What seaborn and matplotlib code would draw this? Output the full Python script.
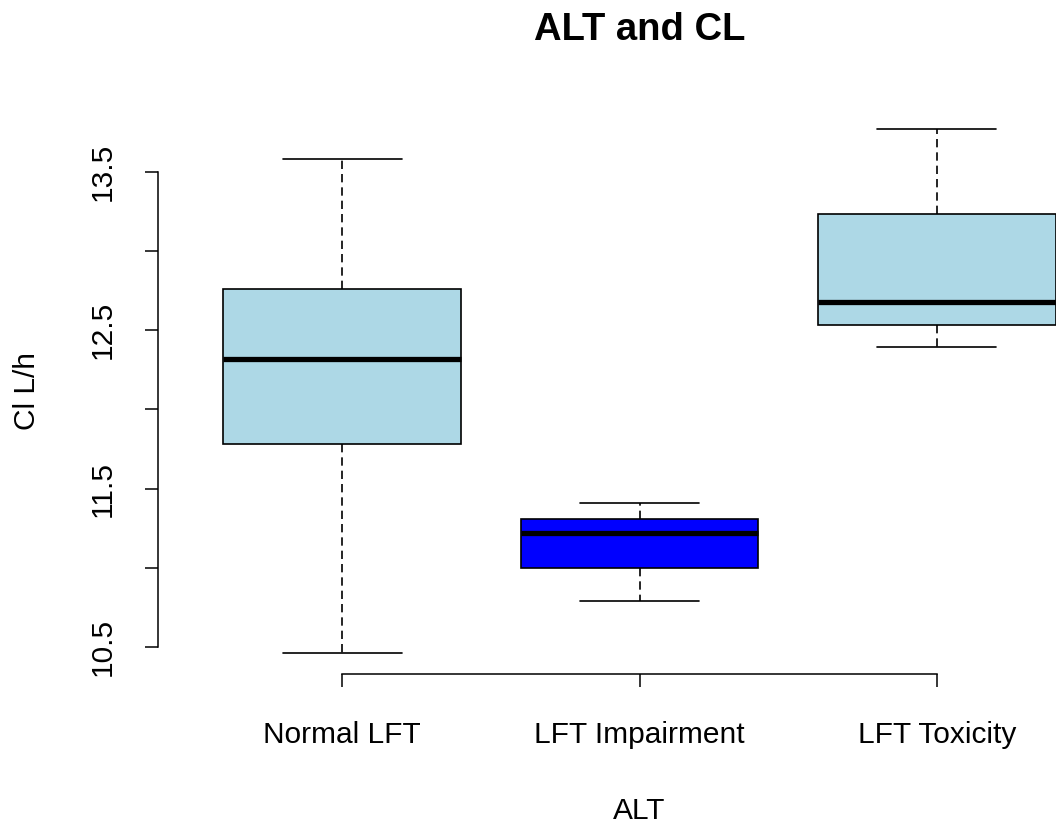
import numpy as np
import pandas as pd
import matplotlib
matplotlib.use("Agg")
import matplotlib.pyplot as plt
import seaborn as sns

# Five-number summaries (min, Q1, median, Q3, max) of clearance by ALT group
groups = ["Normal LFT", "LFT Impairment", "LFT Toxicity"]
normal_lft = [10.46, 11.78, 12.32, 12.76, 13.58]
lft_impairment = [10.79, 11.00, 11.22, 11.31, 11.41]
lft_toxicity = [12.39, 12.53, 12.68, 13.23, 13.77]
box_colors = ["#ADD8E6", "#0000FF", "#ADD8E6"]
ytick_values = [10.5, 11.0, 11.5, 12.0, 12.5, 13.0, 13.5]
ytick_labels = ["10.5", "", "11.5", "", "12.5", "", "13.5"]

df = pd.DataFrame({
    "ALT": np.repeat(groups, 5),
    "CL": normal_lft + lft_impairment + lft_toxicity,
})

sns.set_style("white")
plt.rcParams["font.family"] = ["Liberation Sans", "DejaVu Sans"]
plt.rcParams["text.color"] = "black"

W, H = 1056, 825
fig = plt.figure(figsize=(W / 100, H / 100), dpi=100)
# plot region runs a little past the right edge of the canvas
left_px, right_px, top_px, bot_px = 158, 1121, 107.8, 674.3
ax = fig.add_axes([left_px / W, 1 - bot_px / H,
                   (right_px - left_px) / W, (bot_px - top_px) / H])

sns.boxplot(
    data=df, x="ALT", y="CL", hue="ALT", order=groups, hue_order=groups,
    palette=dict(zip(groups, box_colors)), saturation=1, legend=False,
    width=0.8, whis=(0, 100), linecolor="black", linewidth=1.2,
    medianprops={"linewidth": 3.8, "color": "black", "solid_capstyle": "butt"},
    whiskerprops={"linestyle": (0, (5, 3)), "linewidth": 1.2},
    capprops={"linewidth": 1.2},
    ax=ax,
)

# axis limits padded by 4% of the data range on each side
vals = df["CL"].to_numpy()
rng = vals.max() - vals.min()
ax.set_ylim(vals.min() - 0.04 * rng, vals.max() + 0.04 * rng)
ax.set_xlim(-0.5 - 0.04 * 3, 2.5 + 0.04 * 3)

for s in ["top", "right"]:
    ax.spines[s].set_visible(False)
for s in ["left", "bottom"]:
    ax.spines[s].set_linewidth(1.1)
    ax.spines[s].set_color("black")
ax.spines["left"].set_bounds(ytick_values[0], ytick_values[-1])
ax.spines["bottom"].set_bounds(0, len(groups) - 1)

ax.tick_params(axis="both", direction="out", length=9.4, width=1.1,
               color="black", labelsize=21.5, labelcolor="black",
               bottom=True, left=True)
ax.tick_params(axis="y", pad=20.5)
ax.tick_params(axis="x", pad=24)
ax.set_yticks(ytick_values)
ax.set_yticklabels(ytick_labels, rotation=90, va="center")
ax.set_xticks(range(len(groups)))
ax.set_xticklabels(groups)

ax.set_xlabel("ALT", fontsize=21.5, color="black")
ax.set_ylabel("Cl L/h", fontsize=21.5, color="black")
ax.xaxis.set_label_coords(0.5, -0.216)
ax.yaxis.set_label_coords(-0.121, 0.5)
ax.set_title("ALT and CL", fontsize=27.5, fontweight="bold", pad=49,
             color="black")
ax.grid(False)

fig.savefig("out.png", dpi=100)
